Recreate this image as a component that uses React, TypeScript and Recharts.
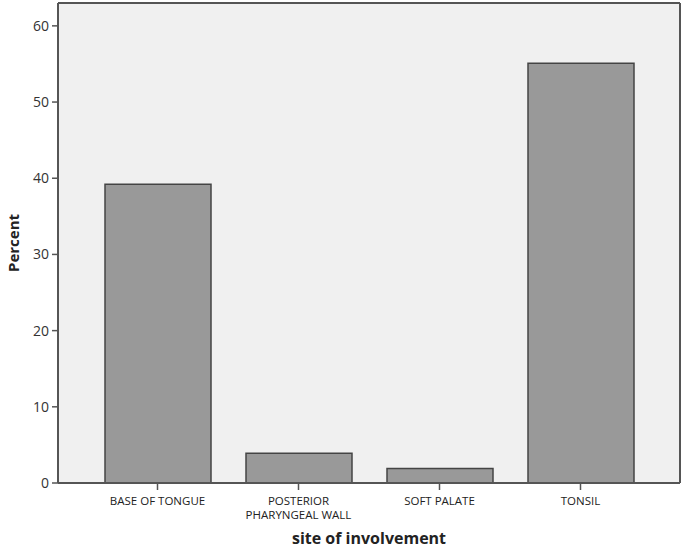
import React from 'react';
import { BarChart, Bar, XAxis, YAxis, CartesianGrid } from 'recharts';

const sites = ['BASE OF TONGUE', 'POSTERIOR PHARYNGEAL WALL', 'SOFT PALATE', 'TONSIL'];
const percents = [39.2, 3.9, 1.9, 55.1];
const yTicks = [0, 10, 20, 30, 40, 50, 60];
// how each category label breaks into lines under the axis
const siteLines: Record<string, string[]> = {
  'BASE OF TONGUE': ['BASE OF TONGUE'],
  'POSTERIOR PHARYNGEAL WALL': ['POSTERIOR', 'PHARYNGEAL WALL'],
  'SOFT PALATE': ['SOFT PALATE'],
  TONSIL: ['TONSIL']
};

const FONT = '"Open Sans", "DejaVu Sans", sans-serif';
const AXIS = '#555';

const data = sites.map((site, i) => ({ site, percent: percents[i] }));

function SiteTick(props: any) {
  const { x, y, payload } = props;
  const lines = siteLines[payload.value] || [payload.value];
  return (
    <text x={x} y={y} textAnchor="middle" fontSize={11.5} fill="#222" fontFamily={FONT}>
      {lines.map((line, i) => (
        <tspan key={line} x={x} dy={i === 0 ? 13 : 14}>
          {line}
        </tspan>
      ))}
    </text>
  );
}

export default function App() {
  return (
    <div style={{ position: 'absolute', left: 0, top: 0, width: 685, height: 548, background: '#fff' }}>
      <BarChart
        width={685}
        height={548}
        data={data}
        margin={{ top: 3, right: 5, left: 0, bottom: 0 }}
        barSize={106}
      >
        {/* plot background plus a frame drawn on the plot's own edges */}
        <CartesianGrid
          fill="#f0f0f0"
          stroke={AXIS}
          strokeWidth={2}
          horizontalCoordinatesGenerator={({ offset }: any) => [offset.top, offset.top + offset.height]}
          verticalCoordinatesGenerator={({ offset }: any) => [offset.left, offset.left + offset.width]}
        />
        <XAxis
          dataKey="site"
          height={65}
          interval={0}
          padding={{ left: 29, right: 29 }}
          tick={<SiteTick />}
          tickSize={7}
          tickLine={{ stroke: AXIS, strokeWidth: 1.5 }}
          axisLine={{ stroke: AXIS, strokeWidth: 2 }}
          label={{
            value: 'site of involvement',
            position: 'insideBottom',
            offset: 4,
            fontSize: 16,
            fontWeight: 'bold',
            fill: '#222',
            fontFamily: FONT
          }}
        />
        <YAxis
          width={58}
          domain={[0, 63]}
          ticks={yTicks}
          tickSize={6}
          tickMargin={3}
          tick={{ fontSize: 14, fill: '#333', fontFamily: FONT }}
          tickLine={{ stroke: AXIS, strokeWidth: 1.5 }}
          axisLine={{ stroke: AXIS, strokeWidth: 2 }}
          label={{
            value: 'Percent',
            angle: -90,
            position: 'insideLeft',
            offset: 14,
            fontSize: 15,
            fontWeight: 'bold',
            fill: '#222',
            fontFamily: FONT,
            style: { textAnchor: 'middle' }
          }}
        />
        <Bar dataKey="percent" fill="#999999" stroke="#444" strokeWidth={1.5} isAnimationActive={false} />
      </BarChart>
    </div>
  );
}
